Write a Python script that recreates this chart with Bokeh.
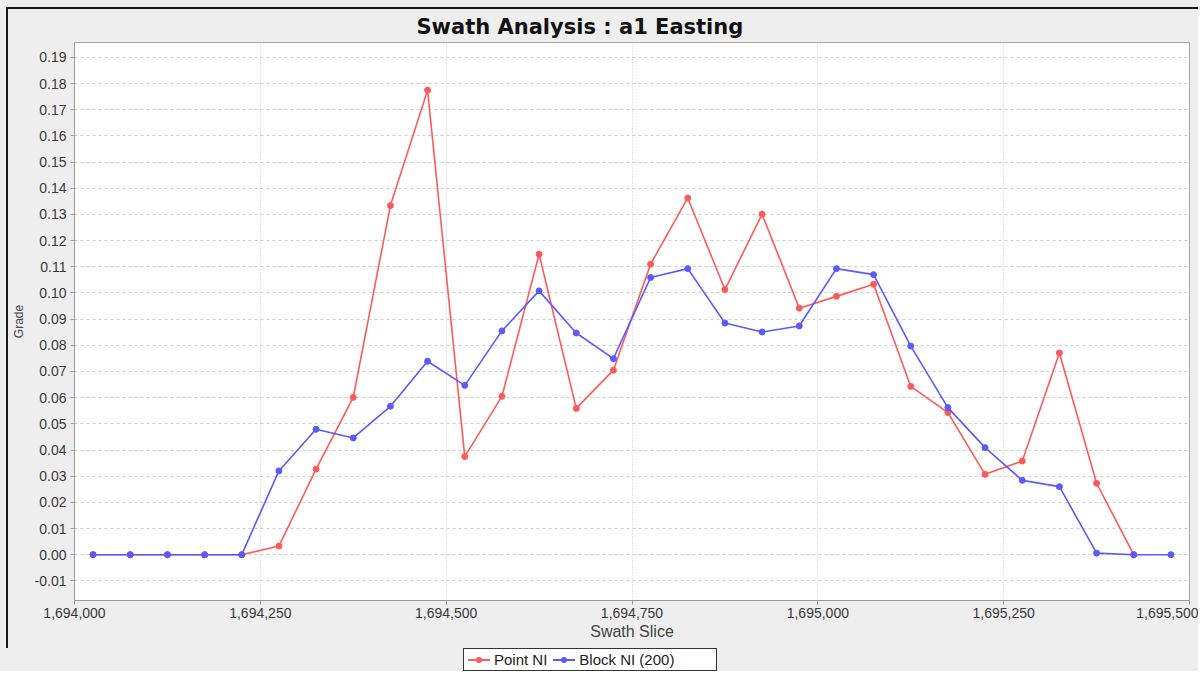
from bokeh.plotting import figure
from bokeh.layouts import column
from bokeh.models import Range1d, FixedTicker, NumeralTickFormatter, Div
from bokeh.embed import file_html
from bokeh.resources import INLINE

# Swath slice centres (easting) and grades per slice
slices = [1694025, 1694075, 1694125, 1694175, 1694225, 1694275, 1694325, 1694375,
          1694425, 1694475, 1694525, 1694575, 1694625, 1694675, 1694725, 1694775,
          1694825, 1694875, 1694925, 1694975, 1695025, 1695075, 1695125, 1695175,
          1695225, 1695275, 1695325, 1695375, 1695425, 1695475]

point_ni = [0.0, 0.0, 0.0, 0.0, 0.0, 0.0033, 0.0327, 0.0601, 0.1334, 0.1775,
            0.0375, 0.0605, 0.1148, 0.0559, 0.0705, 0.1110, 0.1363, 0.1013, 0.1301, 0.0942,
            0.0987, 0.1033, 0.0643, 0.0543, 0.0307, 0.0358, 0.0771, 0.0273, 0.0]

block_ni = [0.0, 0.0, 0.0, 0.0, 0.0, 0.0320, 0.0479, 0.0446, 0.0567, 0.0739,
            0.0647, 0.0855, 0.1008, 0.0847, 0.0749, 0.1059, 0.1093, 0.0885, 0.0851, 0.0874,
            0.1093, 0.1070, 0.0797, 0.0562, 0.0409, 0.0284, 0.0260, 0.0006, 0.0, 0.0]

series_names = ["Point NI", "Block NI (200)"]

x_ticks = [1694000, 1694250, 1694500, 1694750, 1695000, 1695250, 1695500]
y_ticks = [round(-0.01 + 0.01 * i, 2) for i in range(21)]

FONT = "Liberation Sans"
RED = "#ff5a5a"
BLUE = "#5a5aff"

p = figure(width=1192, height=641,
           x_range=Range1d(1694000, 1695500), y_range=Range1d(-0.0175, 0.1957),
           output_backend="svg", toolbar_location=None,
           min_border_left=65, min_border_right=11, min_border_top=33, min_border_bottom=50,
           background_fill_color="white", border_fill_color="#eeeeee",
           margin=(7, 0, 0, 6),
           styles={"border-left": "2px solid #1a1a1a", "border-top": "2px solid #1a1a1a"})

p.outline_line_color = "#a8a8a8"
p.outline_line_width = 1

# Title
p.title.text = "Swath Analysis : a1 Easting"
p.title.text_font = "DejaVu Sans"
p.title.text_font_size = "21px"
p.title.text_font_style = "bold"
p.title.text_color = "#111111"
p.title.align = "left"
p.title.offset = 342
p.title.standoff = 7

# Axes
p.xaxis.ticker = FixedTicker(ticks=x_ticks)
p.xaxis.formatter = NumeralTickFormatter(format="0,0")
p.yaxis.ticker = FixedTicker(ticks=y_ticks)
p.yaxis.formatter = NumeralTickFormatter(format="0.00")
for ax in (p.xaxis[0], p.yaxis[0]):
    ax.axis_line_color = "#9a9a9a"
    ax.major_tick_line_color = "#9a9a9a"
    ax.major_tick_out = 4
    ax.major_tick_in = 0
    ax.minor_tick_line_color = None
    ax.major_label_text_font = FONT
    ax.major_label_text_font_size = "14px"
    ax.major_label_text_color = "#3a3a3a"
    ax.axis_label_text_font = FONT
    ax.axis_label_text_font_style = "normal"
    ax.axis_label_text_color = "#444444"
p.xaxis.axis_label = "Swath Slice"
p.xaxis.axis_label_text_font_size = "16px"
p.xaxis.axis_label_standoff = 2
p.xaxis.major_label_standoff = 3
p.yaxis.axis_label = "Grade"
p.yaxis.axis_label_text_font_size = "12px"
p.yaxis.axis_label_standoff = 6
p.yaxis.major_label_standoff = 4

# Grid
p.xgrid.grid_line_color = "#c8c8c8"
p.xgrid.grid_line_dash = "1 2"
p.ygrid.grid_line_color = "#cccccc"
p.ygrid.grid_line_dash = "3 3"

# Series
p.line(slices[:len(point_ni)], point_ni, line_color=RED, line_width=1.6)
p.scatter(slices[:len(point_ni)], point_ni, size=6, fill_color=RED, line_color=RED)
p.line(slices, block_ni, line_color=BLUE, line_width=1.6)
p.scatter(slices, block_ni, size=6, fill_color=BLUE, line_color=BLUE)


def legend_entry(name, color):
    # short line with a dot on it, followed by the series name
    swatch = (
        '<span style="position:relative;display:inline-block;width:22px;height:12px;margin:0 4px 0 2px">'
        f'<span style="position:absolute;left:0;top:5px;width:22px;height:2px;background:{color}"></span>'
        f'<span style="position:absolute;left:8px;top:3px;width:6px;height:6px;border-radius:50%;background:{color}"></span>'
        '</span>'
    )
    return f'<span style="display:inline-flex;align-items:center;margin-right:4px">{swatch}{name}</span>'


legend_html = (
    '<div style="display:flex;align-items:center;box-sizing:border-box;width:254px;height:23px;'
    'border:1px solid #333333;background:#ffffff;padding:0 2px;'
    f"font-family:'{FONT}';font-size:15px;color:#222222;white-space:nowrap\">"
    + legend_entry(series_names[0], RED)
    + legend_entry(series_names[1], BLUE)
    + '</div>'
)
legend_div = Div(text=legend_html, width=254, height=23, margin=(0, 0, 0, 463))

layout = column(p, legend_div, spacing=0, styles={"background-color": "#eeeeee"})

open("out.html", "w").write(file_html(layout, INLINE))
